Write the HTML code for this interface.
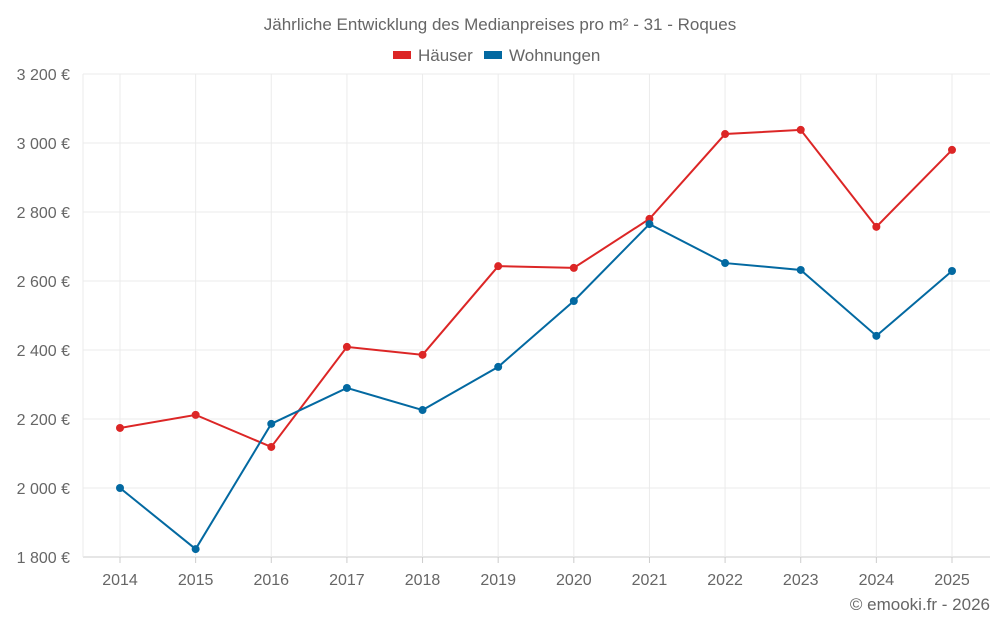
<!DOCTYPE html>
<html><head><meta charset="utf-8"><style>
html,body{margin:0;padding:0;background:#fff;}
body{width:1000px;height:625px;overflow:hidden;font-family:"Liberation Sans",sans-serif;}
svg text{font-family:"Liberation Sans",sans-serif;fill:#666;}
</style></head><body>
<svg id="chart" width="1000" height="625" viewBox="0 0 1000 625" xmlns="http://www.w3.org/2000/svg">
<text x="500" y="30" text-anchor="middle" font-size="17">Jährliche Entwicklung des Medianpreises pro m² - 31 - Roques</text>
<g>
<g><rect x="393" y="51" width="18" height="8" fill="#dc2626"/><text x="418" y="61" font-size="17">Häuser</text></g>
<g><rect x="484" y="51" width="18" height="8" fill="#0369a1"/><text x="509" y="61" font-size="17">Wohnungen</text></g>
</g>
<g id="grid"></g>
<g id="axes"></g>
<g id="series"></g>
<text x="990" y="610" text-anchor="end" font-size="17">© emooki.fr - 2026</text>
</svg>
<script>
const years=[2014,2015,2016,2017,2018,2019,2020,2021,2022,2023,2024,2025];
const haeuser=[2174,2212,2119,2409,2386,2643,2638,2780,3026,3038,2757,2980];
const wohnungen=[2000,1823,2186,2290,2226,2351,2542,2765,2652,2632,2441,2629];
const yTicks=[1800,2000,2200,2400,2600,2800,3000,3200];
const yTickLabels=["1 800 €","2 000 €","2 200 €","2 400 €","2 600 €","2 800 €","3 000 €","3 200 €"];
const NS="http://www.w3.org/2000/svg";
const L=83,R=990,T=74,B=557,yMin=1800,yMax=3200;
const x=i=>120+i*(952-120)/(years.length-1);
const y=v=>B-(v-yMin)/(yMax-yMin)*(B-T);
function mk(tag,attrs,parent){const e=document.createElementNS(NS,tag);for(const k in attrs)e.setAttribute(k,attrs[k]);parent.appendChild(e);return e;}
const grid=document.getElementById('grid'),axes=document.getElementById('axes'),series=document.getElementById('series');
yTicks.forEach((t,i)=>{
  const ln=mk('line',{x1:L,x2:R,y1:y(t),y2:y(t),stroke:i==0?'#ccc':'#ebebeb','stroke-width':1},grid);
  
  
  const tx=mk('text',{x:70,y:y(t)+6,'text-anchor':'end','font-size':16},axes);
  tx.textContent=yTickLabels[i];
  
  
});
years.forEach((yr,i)=>{
  const ln=mk('line',{x1:x(i),x2:x(i),y1:T,y2:B,stroke:'#ebebeb','stroke-width':1},grid);
  
  
  const tk=mk('line',{x1:x(i),x2:x(i),y1:B,y2:B+6,stroke:'#ccc'},axes);
  
  
  const tx=mk('text',{x:x(i),y:585,'text-anchor':'middle','font-size':16},axes);
  tx.textContent=yr;
  
  
});
mk('line',{x1:L,x2:L,y1:T,y2:B,stroke:'#ebebeb'},grid);
function draw(vals,color,name){
  const p=mk('polyline',{points:vals.map((v,i)=>x(i)+','+y(v)).join(' '),fill:'none',stroke:color,'stroke-width':2},series);
  
  
  vals.forEach((v,i)=>{
    const c=mk('circle',{cx:x(i),cy:y(v),r:4,fill:color},series);
    
    
  });
}
draw(haeuser,'#dc2626','haeuser');
draw(wohnungen,'#0369a1','wohnungen');
</script>
</body></html>
